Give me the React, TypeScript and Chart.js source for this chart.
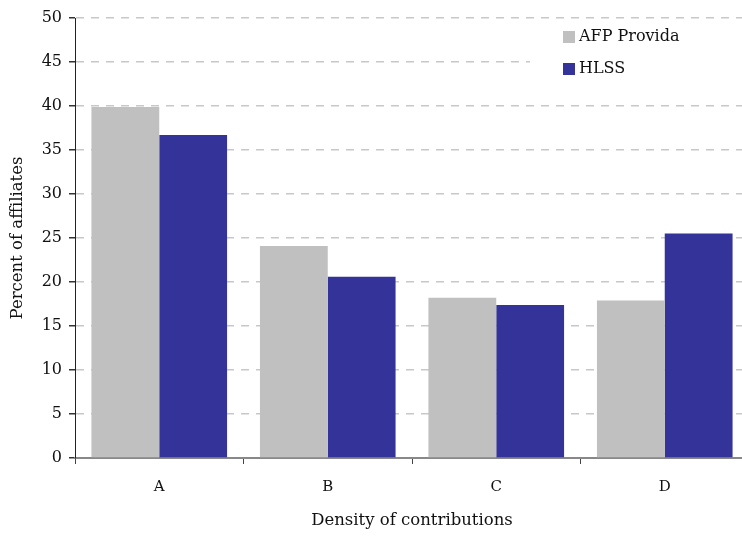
import React, { useEffect, useRef } from "react";
import { Chart, registerables } from "chart.js";

Chart.register(...registerables);

const categories = ["A", "B", "C", "D"];
const afpProvida = [39.9, 24.1, 18.2, 17.9];
const hlss = [36.7, 20.6, 17.4, 25.5];
const seriesLabels = ["AFP Provida", "HLSS"];
const seriesColors = ["#c0c0c0", "#333399"];

const FONT = "'DejaVu Serif', serif";

const legendPlugin = {
  id: "insideLegend",
  afterDraw(chart: any) {
    const ctx = chart.ctx;
    ctx.save();
    ctx.fillStyle = "#ffffff";
    ctx.fillRect(530, 22, 222, 64);
    ctx.font = `16px ${FONT}`;
    ctx.textBaseline = "middle";
    chart.data.datasets.forEach((ds: any, i: number) => {
      const y = 37 + i * 32;
      ctx.fillStyle = ds.backgroundColor;
      ctx.fillRect(563, y - 6, 12, 12);
      ctx.fillStyle = "#111111";
      ctx.fillText(ds.label, 579, y);
    });
    ctx.restore();
  },
};

export default function App() {
  const ref = useRef<HTMLCanvasElement | null>(null);
  useEffect(() => {
    if (!ref.current) return;
    const chart = new Chart(ref.current, {
      type: "bar",
      data: {
        labels: categories,
        datasets: [
          { label: seriesLabels[0], data: afpProvida, backgroundColor: seriesColors[0] },
          { label: seriesLabels[1], data: hlss, backgroundColor: seriesColors[1] },
        ],
      },
      plugins: [legendPlugin],
      options: {
        responsive: false,
        animation: false,
        devicePixelRatio: 1,
        layout: { padding: { left: 0, top: 18, right: 3, bottom: 0 } },
        datasets: {
          bar: { categoryPercentage: 0.805, barPercentage: 1.0 },
        },
        plugins: {
          legend: { display: false },
          tooltip: { enabled: false },
        },
        scales: {
          x: {
            afterFit: (s: any) => { s.height = 78; },
            grid: {
              drawOnChartArea: false,
              drawTicks: true,
              tickLength: 6,
              tickColor: "#444444",
              offset: true,
            },
            border: { color: "#888888", width: 2 },
            ticks: { color: "#111111", font: { family: FONT, size: 15 }, padding: 14 },
            title: {
              display: true,
              text: "Density of contributions",
              color: "#111111",
              font: { family: FONT, size: 16.5 },
              padding: { top: 10, bottom: 5 },
            },
          },
          y: {
            min: 0,
            max: 50,
            afterFit: (s: any) => { s.width = 75; },
            ticks: {
              stepSize: 5,
              color: "#111111",
              font: { family: FONT, size: 16 },
              padding: 7,
            },
            grid: {
              color: (c: any) => (c.tick && c.tick.value === 0 ? "rgba(0,0,0,0)" : "#c8c8c8"),
              tickColor: "#333333",
              tickLength: 6,
              tickBorderDash: [],
              lineWidth: 1.5,
            },
            border: { color: "#222222", width: 1, dash: [8, 7] as any },
            title: {
              display: true,
              text: "Percent of affiliates",
              color: "#111111",
              font: { family: FONT, size: 16.5 },
              padding: { top: 8, bottom: 0 },
            },
          },
        },
      } as any,
    });
    return () => chart.destroy();
  }, []);
  return (
    <div style={{ position: "absolute", left: 0, top: 0, width: 742, height: 536, overflow: "hidden", background: "#fff" }}>
      <canvas ref={ref} width={752} height={536} style={{ display: "block" }} />
    </div>
  );
}
